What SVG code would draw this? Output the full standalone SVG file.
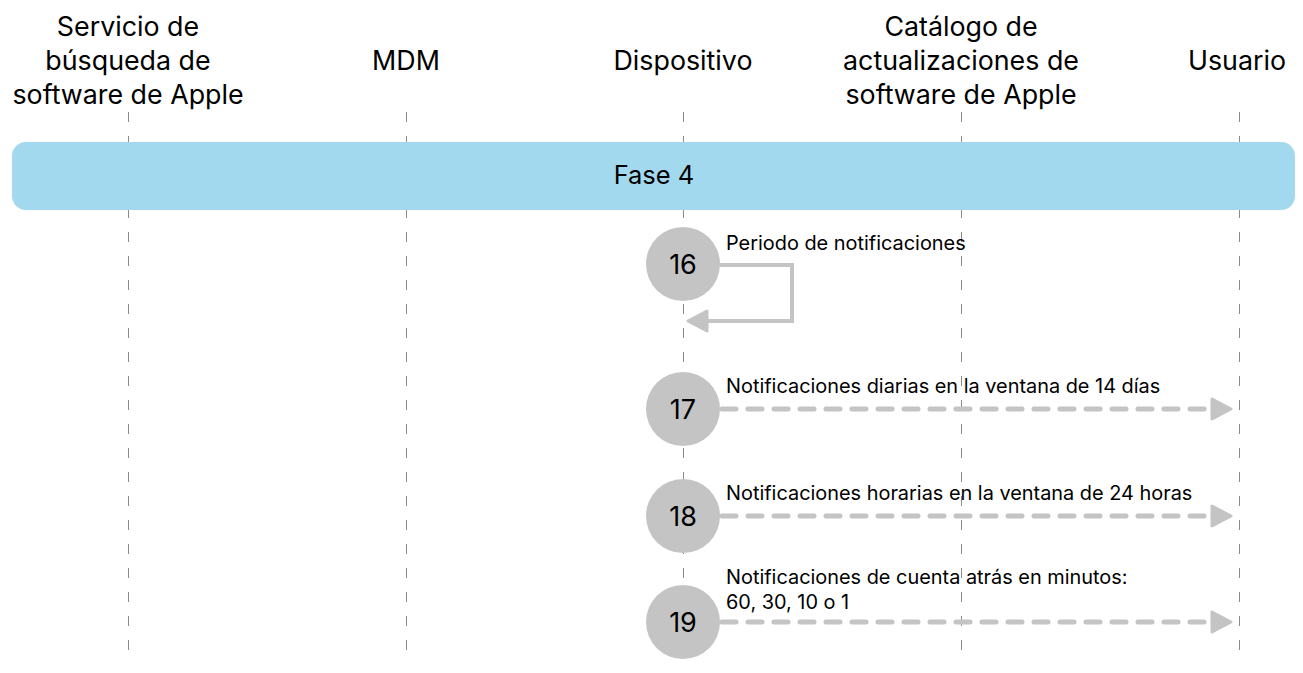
<svg xmlns="http://www.w3.org/2000/svg" width="1303" height="673" viewBox="0 0 1303 673">
<style>
.hdr{font-family:Inter,"Liberation Sans",sans-serif;font-size:26.8px;fill:#000;text-anchor:middle}
.lbl{font-family:Inter,"Liberation Sans",sans-serif;font-size:19.9px;fill:#000}
.num{font-family:Inter,"Liberation Sans",sans-serif;font-size:27px;fill:#000;text-anchor:middle}
.life{stroke:#8a8a8a;stroke-width:1;stroke-dasharray:10 14;fill:none}
.circ{fill:#c4c4c4}
.dash{stroke:#c4c4c4;stroke-width:5;stroke-linecap:round;stroke-dasharray:14 12;fill:none}
.solid{stroke:#c4c4c4;stroke-width:4;fill:none}
.head{fill:#c4c4c4;stroke:#c4c4c4;stroke-width:3;stroke-linejoin:round}
</style>
<rect width="1303" height="673" fill="#fff"/>
<g id="lifelines">
<line class="life" x1="128.5" y1="112" x2="128.5" y2="655"/>
<line class="life" x1="406.5" y1="112" x2="406.5" y2="655"/>
<line class="life" x1="683.5" y1="112" x2="683.5" y2="655"/>
<line class="life" x1="961.5" y1="112" x2="961.5" y2="655"/>
<line class="life" x1="1239.5" y1="112" x2="1239.5" y2="655"/>
</g>
<g id="hdr-busqueda"><text class="hdr" x="128" y="36">Servicio de</text><text class="hdr" x="128" y="70">búsqueda de</text><text class="hdr" x="128" y="104">software de Apple</text></g>
<g id="hdr-mdm"><text class="hdr" x="406" y="70">MDM</text></g>
<g id="hdr-dispositivo"><text class="hdr" x="683" y="70">Dispositivo</text></g>
<g id="hdr-catalogo"><text class="hdr" x="961" y="36">Catálogo de</text><text class="hdr" x="961" y="70">actualizaciones de</text><text class="hdr" x="961" y="104">software de Apple</text></g>
<g id="hdr-usuario"><text class="hdr" x="1237" y="70">Usuario</text></g>
<g id="fase4"><rect x="12" y="142" width="1283" height="68" rx="14" fill="#a2d9ef"/><text x="654" y="184" font-family="Inter,'Liberation Sans',sans-serif" font-size="25.5" text-anchor="middle">Fase 4</text></g>
<g id="connectors">
<polyline class="solid" points="715,265 792,265 792,321 706,321"/>
<polygon class="head" points="688,321 707,311 707,331"/>
<line class="dash" x1="722" y1="409" x2="1204" y2="409"/>
<polygon class="head" points="1231,409 1212,399 1212,419"/>
<line class="dash" x1="722" y1="516" x2="1204" y2="516"/>
<polygon class="head" points="1231,516 1212,506 1212,526"/>
<line class="dash" x1="722" y1="622" x2="1204" y2="622"/>
<polygon class="head" points="1231,622 1212,612 1212,632"/>
</g>
<g id="step16"><circle class="circ" cx="683" cy="264" r="37"/><text class="num" x="683" y="274">16</text><text class="lbl" x="726" y="250">Periodo de notificaciones</text></g>
<g id="step17"><circle class="circ" cx="683" cy="409" r="37"/><text class="num" x="683" y="419">17</text><text class="lbl" x="726" y="393">Notificaciones diarias en la ventana de 14 días</text></g>
<g id="step18"><circle class="circ" cx="683" cy="516" r="37"/><text class="num" x="683" y="526">18</text><text class="lbl" x="726" y="500">Notificaciones horarias en la ventana de 24 horas</text></g>
<g id="step19"><circle class="circ" cx="683" cy="622" r="37"/><text class="num" x="683" y="632">19</text><text class="lbl" x="726" y="584">Notificaciones de cuenta atrás en minutos:</text><text class="lbl" x="726" y="609">60, 30, 10 o 1</text></g>
</svg>
